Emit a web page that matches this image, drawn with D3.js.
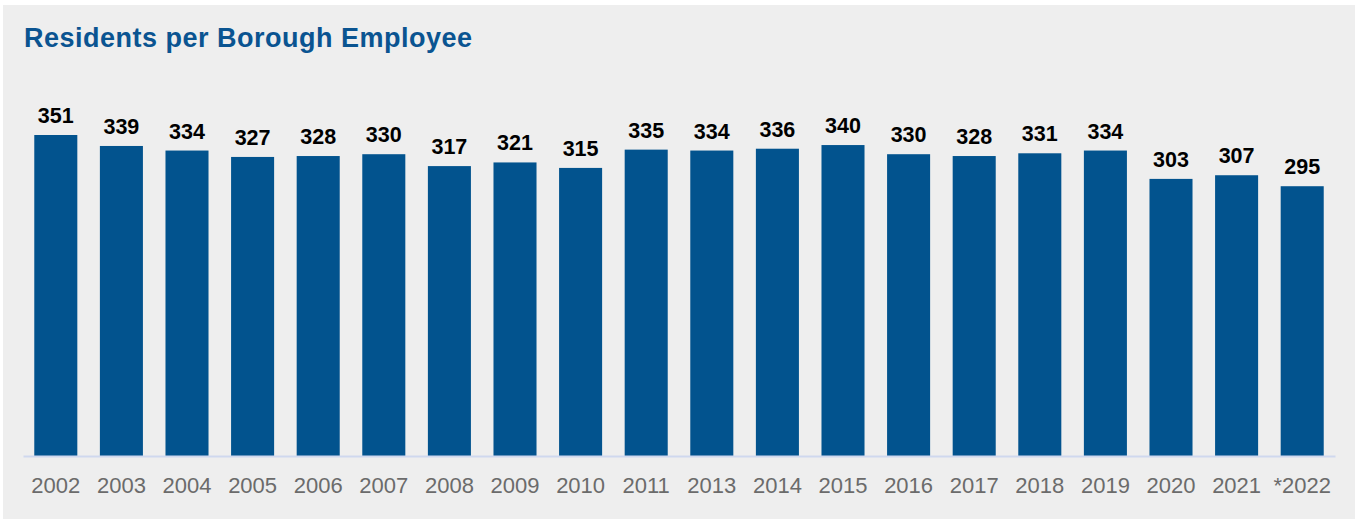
<!DOCTYPE html>
<html>
<head>
<meta charset="utf-8">
<script src="https://cdn.jsdelivr.net/npm/d3@7"></script>
<style>
  body { margin: 0; background: #ffffff; }
  svg { display: block; }
</style>
</head>
<body>
<div id="chart"></div>
<script>
// categories (no 2012 in the source)
var years = ["2002", "2003", "2004", "2005", "2006", "2007", "2008", "2009", "2010", "2011",
             "2013", "2014", "2015", "2016", "2017", "2018", "2019", "2020", "2021", "*2022"];
// residents per borough employee
var residents = [351, 339, 334, 327, 328, 330, 317, 321, 315, 335,
                 334, 336, 340, 330, 328, 331, 334, 303, 307, 295];
var title = "Residents per Borough Employee";

var w = 1355;
var h = 519;
var baseY = 456;

var dataset = years.map(function(y, i) {
    return { Year: y, Value: residents[i] };
});

var svg = d3.select("#chart").append("svg").attr("width", w).attr("height", h);

// grey panel
svg.append("rect").attr("x", 3).attr("y", 5).attr("width", w - 3).attr("height", h - 5)
    .attr("fill", "#eeeeee");

svg.append("text")
    .attr("x", 24)
    .attr("y", 47)
    .text(title)
    .style("font-family", "Liberation Sans, Arial, sans-serif")
    .style("font-weight", "bold")
    .style("font-size", "27px")
    .style("letter-spacing", "0.5px")
    .style("fill", "#0a5491");

var xScale = d3.scaleBand().domain(years).range([23, 1335]).paddingInner(0.344).paddingOuter(0.172);
var yScale = d3.scaleLinear().domain([0, 351]).range([baseY, 135]);

// bars
svg.selectAll("rect.bar")
    .data(dataset)
    .enter()
    .append("rect")
    .attr("class", "bar")
    .attr("x", function(d) { return xScale(d.Year); })
    .attr("y", function(d) { return yScale(d.Value); })
    .attr("width", xScale.bandwidth())
    .attr("height", function(d) { return baseY - yScale(d.Value); })
    .attr("fill", "#02538e");

// value labels
svg.selectAll("text.val")
    .data(dataset)
    .enter()
    .append("text")
    .attr("class", "val")
    .attr("x", function(d) { return xScale(d.Year) + xScale.bandwidth() / 2; })
    .attr("y", function(d) { return yScale(d.Value) - 12; })
    .attr("text-anchor", "middle")
    .text(function(d) { return d.Value; })
    .style("font-family", "Liberation Sans, Arial, sans-serif")
    .style("font-weight", "bold")
    .style("font-size", "21.5px")
    .style("fill", "#000000");

// x axis
var xAxis = d3.axisBottom().scale(xScale).tickSize(0).tickPadding(21);
var gx = svg.append("g").attr("transform", "translate(0," + baseY + ")").call(xAxis);
gx.select(".domain").attr("stroke", "#cfd8ee").attr("stroke-width", 2);
gx.selectAll("text")
    .style("font-family", "Liberation Sans, Arial, sans-serif")
    .style("font-size", "22px")
    .style("fill", "#6b6b6b");
</script>
</body>
</html>
